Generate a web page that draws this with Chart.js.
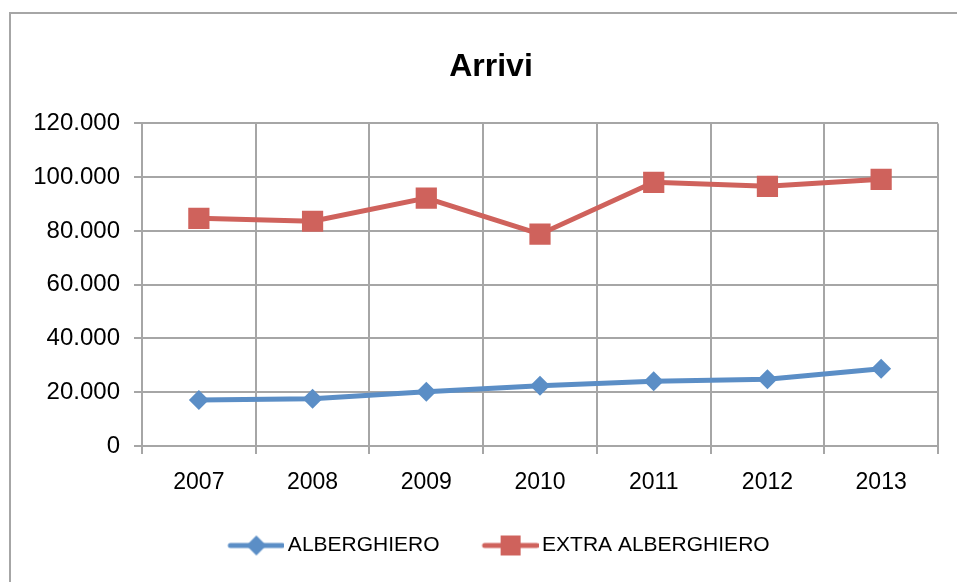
<!DOCTYPE html>
<html>
<head>
<meta charset="utf-8">
<script src="https://cdn.jsdelivr.net/npm/chart.js@4"></script>
<style>
  html, body { margin: 0; padding: 0; background: #fff; }
  #wrap { position: relative; width: 957px; height: 582px; overflow: hidden; }
  #frame { position: absolute; left: 9px; top: 12px; width: 1000px; height: 640px; border: 2px solid #a6a6a6; box-sizing: border-box; }
  #arriviChart { position: absolute; left: 0; top: 0; }
</style>
</head>
<body>
<div id="wrap">
  <div id="frame"></div>
  <canvas id="arriviChart" width="957" height="582"></canvas>
</div>
<script>
// values
const years = ['2007', '2008', '2009', '2010', '2011', '2012', '2013'];
const alberghiero = [17100, 17600, 20200, 22400, 24100, 24800, 28700];
const extraAlberghiero = [84700, 83600, 92200, 78800, 98100, 96600, 99200];

const blue = '#5b8ec6';
const red = '#cf625c';
const gridGrey = '#a6a6a6';

// legend icon: a short line with the marker in the middle, drawn at the right end of the canvas
const ICON_W = 79;
function legendIcon(color, shape) {
    const c = document.createElement('canvas');
    c.width = ICON_W;
    c.height = 24;
    const g = c.getContext('2d');
    const mid = ICON_W - 28;
    g.strokeStyle = color;
    g.fillStyle = color;
    g.lineWidth = 5;
    g.lineCap = 'round';
    g.beginPath();
    g.moveTo(ICON_W - 54, 12);
    g.lineTo(ICON_W - 2, 12);
    g.stroke();
    if (shape === 'diamond') {
        g.beginPath();
        g.moveTo(mid, 2); g.lineTo(mid + 10, 12); g.lineTo(mid, 22); g.lineTo(mid - 10, 12);
        g.closePath();
        g.fill();
    } else {
        g.fillRect(mid - 10, 2, 20, 20);
    }
    return c;
}
const icons = [legendIcon(blue, 'diamond'), legendIcon(red, 'square')];

function formatIt(v) {
    return String(v).replace(/\B(?=(\d{3})+(?!\d))/g, '.');
}

const ctx = document.getElementById('arriviChart').getContext('2d');
new Chart(ctx, {
    type: 'line',
    data: {
        labels: years,
        datasets: [{
            label: 'ALBERGHIERO',
            data: alberghiero,
            borderColor: blue,
            backgroundColor: blue,
            borderWidth: 5,
            pointStyle: 'rectRot',
            pointRadius: 10,
            pointHoverRadius: 10,
            pointBorderWidth: 0,
            tension: 0,
        }, {
            label: 'EXTRA ALBERGHIERO',
            data: extraAlberghiero,
            borderColor: red,
            backgroundColor: red,
            borderWidth: 5,
            pointStyle: 'rect',
            pointRadius: 15,
            pointHoverRadius: 15,
            pointBorderWidth: 0,
            tension: 0,
        }],
    },
    options: {
        responsive: false,
        animation: false,
        // left padding 25 + right dummy axis keep title/legend centred on the frame (x~491)
        layout: { padding: { left: 25, right: 0, top: 0, bottom: 16 } },
        plugins: {
            title: {
                display: true,
                text: 'Arrivi',
                color: '#000',
                font: { family: 'Liberation Sans', size: 32, weight: 'bold' },
                padding: { top: 48, bottom: 37 },
            },
            legend: {
                position: 'bottom',
                labels: {
                    usePointStyle: true,
                    pointStyleWidth: ICON_W - 14,
                    padding: 27,
                    color: '#000',
                    font: { family: 'Liberation Sans', size: 21 },
                    generateLabels: (chart) => {
                        const items = Chart.defaults.plugins.legend.labels.generateLabels(chart);
                        items.forEach((it, i) => { it.pointStyle = icons[i]; });
                        return items;
                    },
                },
            },
            tooltip: { enabled: false },
        },
        scales: {
            x: {
                offset: true,
                grid: { offset: true, color: gridGrey, lineWidth: 2, tickLength: 8 },
                border: { color: gridGrey, width: 2 },
                ticks: { color: '#000', padding: 17, font: { family: 'Liberation Sans', size: 23, lineHeight: 1 } },
                afterFit: (scale) => { scale.height = 62; },
            },
            y: {
                min: 0,
                max: 120000,
                grid: { color: gridGrey, lineWidth: 2, tickLength: 8 },
                border: { color: gridGrey, width: 2 },
                ticks: {
                    stepSize: 20000,
                    color: '#000',
                    padding: 14,
                    font: { family: 'Liberation Sans', size: 24 },
                    callback: (v) => formatIt(v),
                },
                afterFit: (scale) => { scale.width = 117; },
            },
            // empty right-hand axis, only reserves space so the plot ends at x~938
            yPad: {
                position: 'right',
                display: true,
                grid: { display: false },
                border: { display: false },
                ticks: { display: false },
                afterFit: (scale) => { scale.width = 19; },
            },
        },
    },
});
</script>
</body>
</html>
